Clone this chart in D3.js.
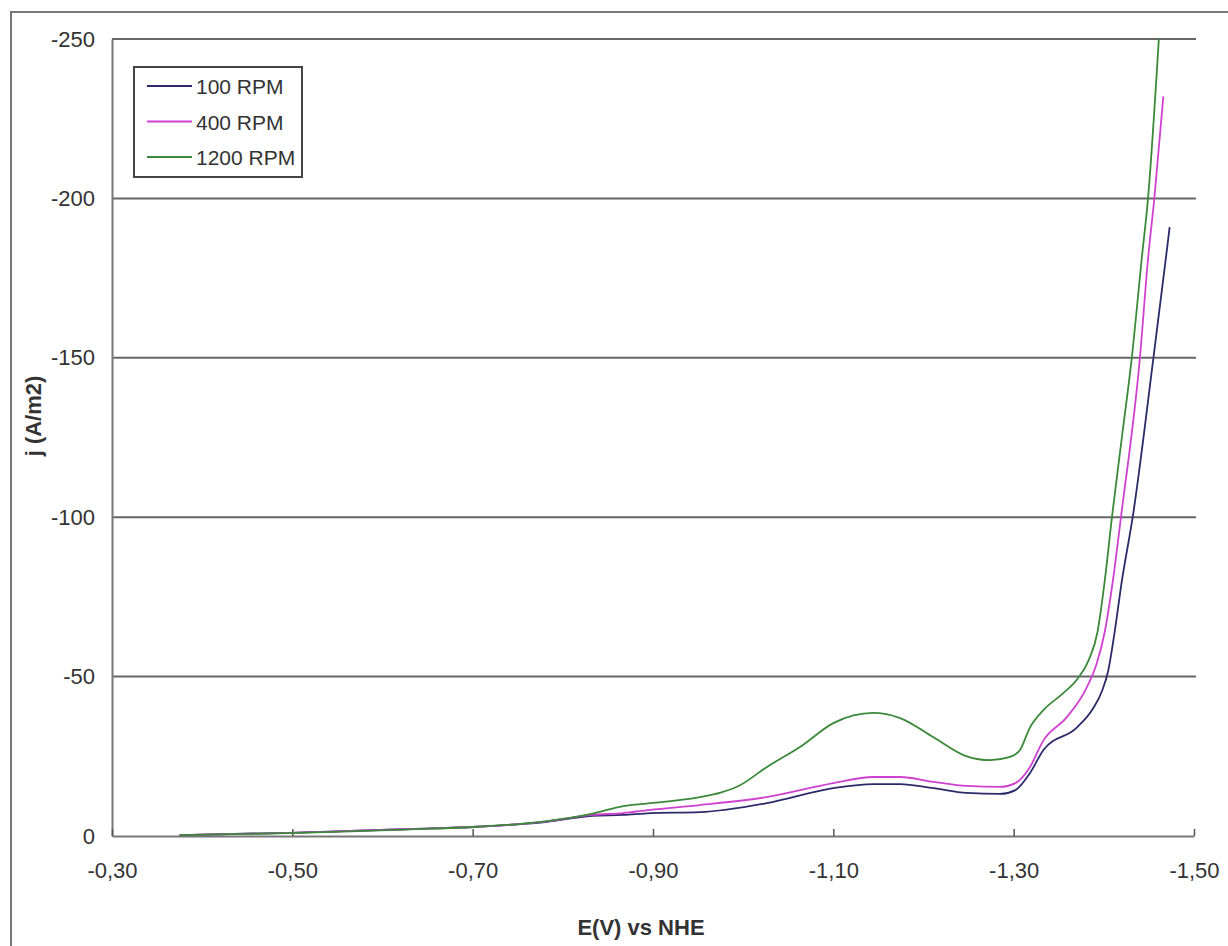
<!DOCTYPE html>
<html>
<head>
<meta charset="utf-8">
<script src="https://cdn.jsdelivr.net/npm/d3@7"></script>
<style>
  body { margin: 0; background: #fff; }
  svg { display: block; font-family: "Liberation Sans", Arial, sans-serif; }
</style>
</head>
<body>
<script>
// data (E in V vs NHE, j in A/m2)
var series = ["100 RPM", "400 RPM", "1200 RPM"];
var colors = ["#2b2b6b", "#d040d0", "#3a8a3a"];

var e100 = [-0.375, -0.497, -0.556, -0.631, -0.705, -0.778, -0.833, -0.867, -0.897, -0.952,
  -1.026, -1.100, -1.144, -1.174, -1.211, -1.248, -1.285, -1.302, -1.318, -1.333,
  -1.370, -1.388, -1.398, -1.405, -1.412, -1.420, -1.432, -1.455, -1.470, -1.473];
var j100 = [-0.3, -1.0, -1.5, -2.2, -2.9, -4.3, -6.3, -6.6, -7.2, -7.5,
  -10.3, -15.0, -16.3, -16.3, -15.0, -13.5, -13.2, -14.4, -19.7, -27,
  -34, -40, -45.5, -52, -64, -80, -100, -150, -184, -191];

var e400 = [-0.375, -0.497, -0.556, -0.631, -0.705, -0.778, -0.833, -0.867, -0.897, -0.952,
  -1.026, -1.100, -1.144, -1.174, -1.211, -1.248, -1.285, -1.302, -1.318, -1.333,
  -1.359, -1.380, -1.392, -1.401, -1.410, -1.419, -1.440, -1.449, -1.456, -1.466];
var j400 = [-0.3, -1.0, -1.5, -2.2, -2.9, -4.4, -6.6, -7.2, -8.2, -9.7,
  -12.2, -16.6, -18.5, -18.5, -17.0, -15.7, -15.4, -16.6, -21.6, -30,
  -37.3, -46, -54, -64, -80, -100, -150, -181, -200, -232];

var e1200 = [-0.375, -0.497, -0.556, -0.631, -0.705, -0.778, -0.833, -0.867, -0.897, -0.952,
  -0.975, -0.997, -1.026, -1.063, -1.100, -1.144, -1.174, -1.211, -1.248, -1.274,
  -1.296, -1.307, -1.318, -1.333, -1.355, -1.370, -1.383, -1.393, -1.401, -1.409,
  -1.420, -1.431, -1.442, -1.449, -1.461];
var j1200 = [-0.3, -0.9, -1.4, -2.1, -2.9, -4.5, -7.0, -9.4, -10.3, -12.2,
  -13.6, -16.0, -21.6, -27.9, -35.4, -38.6, -37.0, -31.0, -25.0, -23.8,
  -24.8, -27, -34, -39.5, -44.8, -49, -55, -64, -80, -100,
  -125, -150, -181, -200, -250];

var xTicks = [-0.30, -0.50, -0.70, -0.90, -1.10, -1.30, -1.50];
var xTickLabels = ["-0,30", "-0,50", "-0,70", "-0,90", "-1,10", "-1,30", "-1,50"];
var yTicks = [0, -50, -100, -150, -200, -250];
var yTickLabels = ["0", "-50", "-100", "-150", "-200", "-250"];

var svgWidth = 1228;
var svgHeight = 946;
var margin = { top: 39, right: 34, bottom: 110, left: 112 };
var chartWidth = svgWidth - margin.left - margin.right;
var chartHeight = svgHeight - margin.top - margin.bottom;

var svg = d3.select("body").append("svg")
  .attr("width", svgWidth)
  .attr("height", svgHeight);

// outer frame of the picture
svg.append("rect")
  .attr("x", 11).attr("y", 12)
  .attr("width", svgWidth + 20).attr("height", svgHeight + 20)
  .attr("fill", "none")
  .attr("stroke", "#777")
  .attr("stroke-width", 2);

var g = svg.append("g")
  .attr("transform", `translate(${margin.left}, ${margin.top})`);

var x = d3.scaleLinear().domain([-0.30, -1.50]).range([0, chartWidth]);
var y = d3.scaleLinear().domain([0, -250]).range([chartHeight, 0]);

// horizontal gridlines
g.append("g")
  .selectAll("line")
  .data(yTicks.slice(1))
  .enter()
  .append("line")
  .attr("x1", 0)
  .attr("x2", chartWidth + 2)
  .attr("y1", d => y(d))
  .attr("y2", d => y(d))
  .attr("stroke", "#666")
  .attr("stroke-width", 2);

// y axis
var leftAxis = d3.axisLeft(y)
  .tickValues(yTicks)
  .tickSize(0)
  .tickPadding(17)
  .tickFormat((d, i) => yTickLabels[i]);

var yAxis = g.append("g").call(leftAxis);
yAxis.select(".domain").attr("stroke", "#777").attr("stroke-width", 2);
yAxis.selectAll("text")
  .attr("font-size", 22)
  .attr("font-family", "Liberation Sans, Arial, sans-serif")
  .attr("fill", "#333");

// x axis, ticks pointing up into the plot
var bottomAxis = d3.axisBottom(x)
  .tickValues(xTicks)
  .tickSizeInner(-7)
  .tickSizeOuter(0)
  .tickPadding(26)
  .tickFormat((d, i) => xTickLabels[i]);

var xAxis = g.append("g")
  .attr("transform", `translate(0, ${chartHeight})`)
  .call(bottomAxis);
xAxis.select(".domain").attr("stroke", "#777").attr("stroke-width", 2);
xAxis.selectAll(".tick line").attr("stroke", "#555").attr("stroke-width", 1.5);
xAxis.selectAll("text")
  .attr("font-size", 22)
  .attr("font-family", "Liberation Sans, Arial, sans-serif")
  .attr("fill", "#333");

// curves
var curves = [
  { name: series[0], e: e100, j: j100, color: colors[0] },
  { name: series[1], e: e400, j: j400, color: colors[1] },
  { name: series[2], e: e1200, j: j1200, color: colors[2] }
];

var line = d3.line()
  .x(d => x(d[0]))
  .y(d => y(d[1]))
  .curve(d3.curveMonotoneX);

g.selectAll(".curve")
  .data(curves)
  .enter()
  .append("path")
  .attr("class", "curve")
  .attr("d", c => line(c.e.map((v, i) => [v, c.j[i]])))
  .attr("fill", "none")
  .attr("stroke", c => c.color)
  .attr("stroke-width", 1.8);

// legend
var legend = svg.append("g");
legend.append("rect")
  .attr("x", 134).attr("y", 67)
  .attr("width", 168).attr("height", 110)
  .attr("fill", "#fff")
  .attr("stroke", "#444")
  .attr("stroke-width", 2);

var rows = legend.selectAll(".row")
  .data(curves)
  .enter()
  .append("g")
  .attr("transform", (d, i) => `translate(0, ${86 + i * 35.5})`);

rows.append("line")
  .attr("x1", 147).attr("x2", 192)
  .attr("y1", 0).attr("y2", 0)
  .attr("stroke", d => d.color)
  .attr("stroke-width", 2);

rows.append("text")
  .attr("x", 196)
  .attr("y", 8)
  .attr("font-size", 21)
  .attr("fill", "#333")
  .text(d => d.name);

// axis titles
svg.append("text")
  .attr("transform", "translate(41, 416) rotate(-90)")
  .attr("text-anchor", "middle")
  .attr("font-size", 22)
  .attr("font-weight", "bold")
  .attr("fill", "#333")
  .text("j (A/m2)");

svg.append("text")
  .attr("x", 641)
  .attr("y", 935)
  .attr("text-anchor", "middle")
  .attr("font-size", 22)
  .attr("font-weight", "bold")
  .attr("fill", "#333")
  .text("E(V) vs NHE");
</script>
</body>
</html>
